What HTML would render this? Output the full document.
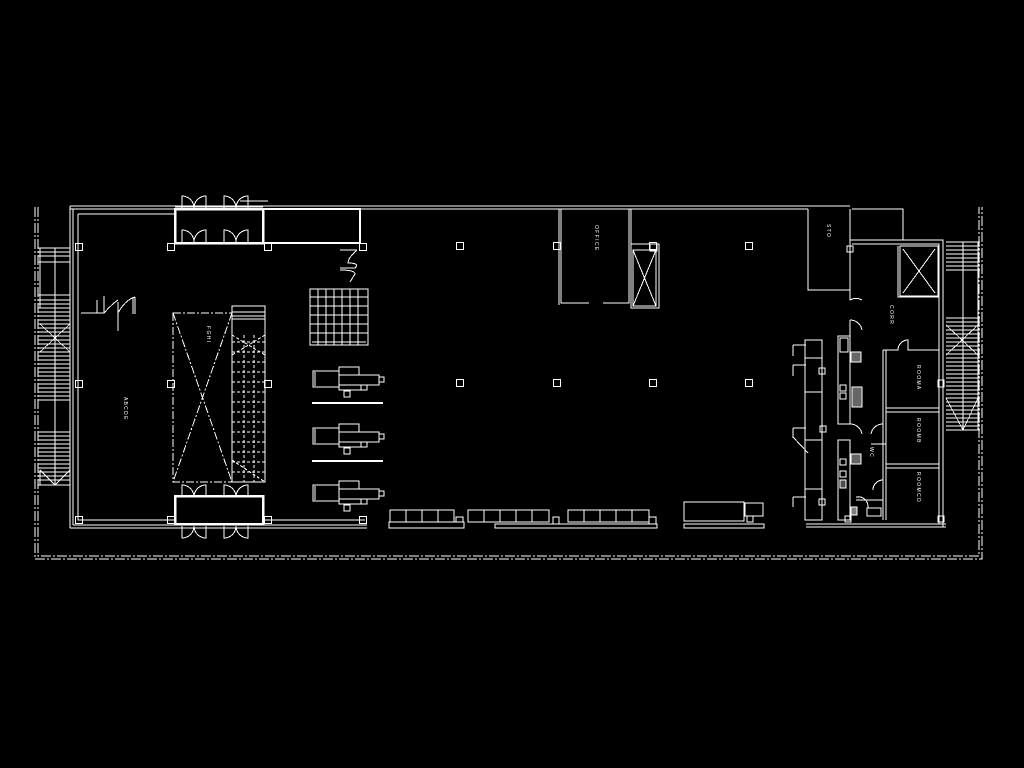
<!DOCTYPE html>
<html><head><meta charset="utf-8"><style>
html,body{margin:0;padding:0;background:#000;width:1024px;height:768px;overflow:hidden}
svg{display:block}
text{font-family:"Liberation Sans",sans-serif;fill:#fff;font-size:5px}
</style></head><body>
<svg width="1024" height="768" viewBox="0 0 1024 768" xmlns="http://www.w3.org/2000/svg">
<defs>
<g id="dd" fill="none" stroke="#fff" stroke-width="1">
<path d="M0 0V-12A12 12 0 0 1 12 0M24 0V-12A12 12 0 0 0 12 0"/>
</g>
<g id="ddn" fill="none" stroke="#fff" stroke-width="1">
<path d="M0 0V12A12 12 0 0 0 12 0M24 0V12A12 12 0 0 1 12 0"/>
</g>
<g id="col"><rect x="-3.5" y="-3.5" width="7" height="7" fill="none" stroke="#fff"/></g>
<g id="desk" fill="none" stroke="#fff" stroke-width="1">
<rect x="0" y="4" width="26" height="16"/><rect x="26" y="0" width="20" height="8"/><rect x="26" y="8" width="40" height="10"/>
<rect x="66" y="10" width="5" height="5"/><rect x="26" y="18" width="22" height="5"/><rect x="48" y="18" width="6" height="5"/>
<rect x="31" y="24" width="6" height="6"/><line x1="2" y1="5" x2="2" y2="19"/>
</g>
</defs>
<g fill="none" stroke="#fff" stroke-width="1" shape-rendering="crispEdges">
<g stroke-dasharray="10,2,2,2">
<path d="M35 207V559H982V207"/><path d="M38 207V556H979V207"/>
</g>
<path d="M70 206H850M70 209H175M263 209H808"/>
<path d="M70 206V528M73 209V525"/>
<path d="M78 214H175M78 214V520H175"/>
<path d="M70 528H367M73 525H175M263 525H367"/>
<path d="M263 520H365"/>
<rect x="175" y="209" width="88" height="34" stroke-width="2.5"/>
<rect x="263" y="209" width="97" height="34" stroke-width="2"/>
<line x1="175" y1="207" x2="263" y2="207"/><line x1="238" y1="210" x2="262" y2="210"/>
<line x1="240" y1="201" x2="268" y2="201"/>
<use href="#dd" x="182" y="208"/><use href="#dd" x="224" y="208"/>
<use href="#dd" x="182" y="242"/><use href="#dd" x="224" y="242"/>
<rect x="175" y="496" width="88" height="28" stroke-width="2.5"/>
<use href="#dd" x="182" y="497"/><use href="#dd" x="224" y="497"/>
<use href="#ddn" x="182" y="526"/><use href="#ddn" x="224" y="526"/>
<use href="#col" x="79" y="247"/><use href="#col" x="171" y="247"/><use href="#col" x="268" y="247"/><use href="#col" x="363" y="247"/>
<use href="#col" x="460" y="246"/><use href="#col" x="557" y="246"/><use href="#col" x="653" y="246"/><use href="#col" x="749" y="246"/>
<use href="#col" x="79" y="384"/><use href="#col" x="171" y="384"/><use href="#col" x="268" y="384"/>
<use href="#col" x="460" y="383"/><use href="#col" x="557" y="383"/><use href="#col" x="653" y="383"/><use href="#col" x="749" y="383"/>
<use href="#col" x="79" y="520"/><use href="#col" x="171" y="520"/><use href="#col" x="268" y="520"/><use href="#col" x="363" y="520"/>
<path d="M38 248H70M38 262H70M38 295H70M38 485H70M38 432H70"/>
<path d="M55 248V485"/>
<path d="M40 248v60M40 470v15"/>
<g stroke-width="0.8">
<path d="M38 252H70M38 256H70M38 300H70M38 304H70M38 308H70M38 312H70M38 316H70M38 320H70M38 324H70M38 328H70M38 332H70M38 336H70M38 340H70M38 344H70M38 348H70M38 352H70M38 356H70M38 360H70M38 364H70M38 368H70M38 372H70M38 376H70M38 380H70M38 384H70M38 388H70M38 392H70M38 396H70M38 400H70"/>
<path d="M38 436H70M38 440H70M38 444H70M38 448H70M38 452H70M38 456H70M38 460H70M38 464H70M38 468H70M38 472H70M38 476H70M38 480H70"/>
<path d="M40 324L70 352M70 324L40 352M40 470L55 485L70 470"/>
</g>
<path d="M81 313H97V300M97 313H104V296M104 313Q112 304 118 300M118 302V331M118 313Q125 300 135 297M135 297V314M133 297V314"/>
<rect x="173" y="313" width="59" height="169" stroke-dasharray="8,2,2,2"/>
<path d="M173 313L232 482M232 313L173 482" stroke-dasharray="8,2,2,2"/>
<rect x="232" y="306" width="33" height="176"/>
<path d="M232 312H265M232 316H265M232 319H265"/>
<g stroke-dasharray="3,2">
<path d="M244 335V482M254 335V482M232 335L265 355M265 335L232 355M232 460L265 482"/>
<path d="M232 342H265M232 352H265M232 362H265M232 372H265M232 382H265M232 392H265M232 402H265M232 412H265M232 422H265M232 432H265M232 442H265M232 452H265M232 462H265M232 472H265"/>
</g>
<path d="M340 250H357M357 250Q348 258 348 263Q360 263 355 268H340M340 270Q355 270 355 274L350 282"/>
<rect x="310" y="289" width="58" height="56"/>
<path d="M318 289V345M326 289V345M334 289V345M342 289V345M350 289V345M358 289V345M310 297H368M310 306H368M310 315H368M310 324H368M310 333H368M312 342H366"/>
<use href="#desk" x="313" y="367"/><use href="#desk" x="313" y="424"/><use href="#desk" x="313" y="481"/>
<path d="M312 403H383M312 461H383" stroke-width="2"/>
<path d="M390 510H454V522H390ZM406 510V522M422 510V522M438 510V522M389 522H464V528H389Z"/>
<rect x="456" y="517" width="7" height="5"/>
<path d="M468 510H549V522H468ZM484 510V522M500 510V522M516 510V522M532 510V522M495 524H657V528H495Z"/>
<rect x="553" y="517" width="6" height="7"/>
<path d="M568 510H649V522H568ZM584 510V522M600 510V522M616 510V522M632 510V522"/>
<rect x="649" y="517" width="7" height="7"/>
<rect x="684" y="502" width="60" height="19"/><rect x="745" y="503" width="18" height="13"/><rect x="747" y="516" width="6" height="6"/><rect x="684" y="524" width="80" height="4"/>
<path d="M561 209V303H589M603 303H629V209M559 209V305M631 209V305"/>
<rect x="631" y="244" width="28" height="64"/>
<rect x="633" y="250" width="23" height="56"/>
<path d="M633 250L656 306M656 250L633 306"/>
<rect x="650" y="244" width="7" height="7"/>
<path d="M808 209V290H850V240M850 209V240H903V209H852"/>
<path d="M850 240H943V527M852 244H939V524"/>
<rect x="900" y="246" width="38" height="50"/><path d="M903 249L935 293M935 249L903 293"/>
<path d="M898 246V297H939"/>
<path d="M850 290V300A12 12 0 0 1 862 300M850 320A12 12 0 0 1 862 330M850 320V336"/>
<rect x="847" y="246" width="6" height="6"/>
<path d="M946 242H980M946 430H980M963 242V430M978 242V430"/>
<g stroke-width="0.8">
<path d="M946 246H980M946 250H980M946 254H980M946 258H980M946 262H980M946 266H980M946 270H980M946 318H980M946 322H980M946 326H980M946 330H980M946 334H980M946 338H980M946 342H980M946 346H980M946 350H980M946 354H980M946 358H980M946 362H980M946 366H980M946 370H980M946 374H980M946 378H980M946 382H980M946 386H980M946 390H980M946 394H980M946 398H980M946 402H980M946 406H980M946 410H980M946 414H980M946 418H980M946 422H980M946 426H980"/>
<path d="M946 325L978 355M978 325L946 355M946 398L963 430L978 398"/>
</g>
<path d="M805 340H822V520H805ZM805 358H822M805 392H822M805 440H822M805 489H822"/>
<path d="M793 345H806M793 345V356M793 365H806M793 365V376M793 428H806M793 428V438M793 497H806M793 497V507M793 437L808 453"/>
<rect x="819" y="368" width="6" height="6"/><rect x="820" y="426" width="6" height="6"/><rect x="819" y="499" width="6" height="6"/>
<path d="M806 524H946M806 527H946"/>
<path d="M838 336H850V424H838ZM838 440H850V520H838Z"/>
<rect x="840" y="338" width="8" height="14"/>
<rect x="851" y="352" width="10" height="10" fill="#fff" fill-opacity="0.4"/>
<rect x="852" y="387" width="10" height="20" fill="#fff" fill-opacity="0.4"/>
<rect x="851" y="454" width="10" height="10" fill="#fff" fill-opacity="0.4"/>
<rect x="840" y="385" width="6" height="6"/><rect x="840" y="393" width="6" height="6"/>
<rect x="840" y="459" width="6" height="6"/><rect x="840" y="471" width="6" height="6"/>
<rect x="840" y="480" width="6" height="8" fill="#fff" fill-opacity="0.3"/>
<path d="M850 424A12 12 0 0 1 862 434M883 424A12 12 0 0 0 871 434"/>
<path d="M883 350V520M886 350V520M883 350H898A10 10 0 0 1 908 340V350H939M886 408H939M886 412H939M886 464H939M886 468H939"/>
<path d="M871 444H886M873 490A10 10 0 0 1 883 480M856 497A10 10 0 0 1 868 508M856 500H883"/>
<rect x="851" y="507" width="6" height="8" fill="#fff" fill-opacity="0.5"/><rect x="867" y="508" width="14" height="8"/>
<rect x="938" y="380" width="6" height="7"/><rect x="938" y="516" width="6" height="6"/><rect x="845" y="516" width="6" height="6"/>
</g>
<g>
<text transform="translate(124 397) rotate(90)">A B C D E</text>
<text transform="translate(207 326) rotate(90)">F G H I</text>
<text transform="translate(595 225) rotate(90)">O F F I C E</text>
<text transform="translate(827 224) rotate(90)">S T O</text>
<text transform="translate(890 305) rotate(90)">C O R R</text>
<text transform="translate(917 365) rotate(90)">R O O M A</text>
<text transform="translate(917 418) rotate(90)">R O O M B</text>
<text transform="translate(917 472) rotate(90)">R O O M C D</text>
<text transform="translate(870 447) rotate(90)">W C</text>
</g>
</svg>
</body></html>
